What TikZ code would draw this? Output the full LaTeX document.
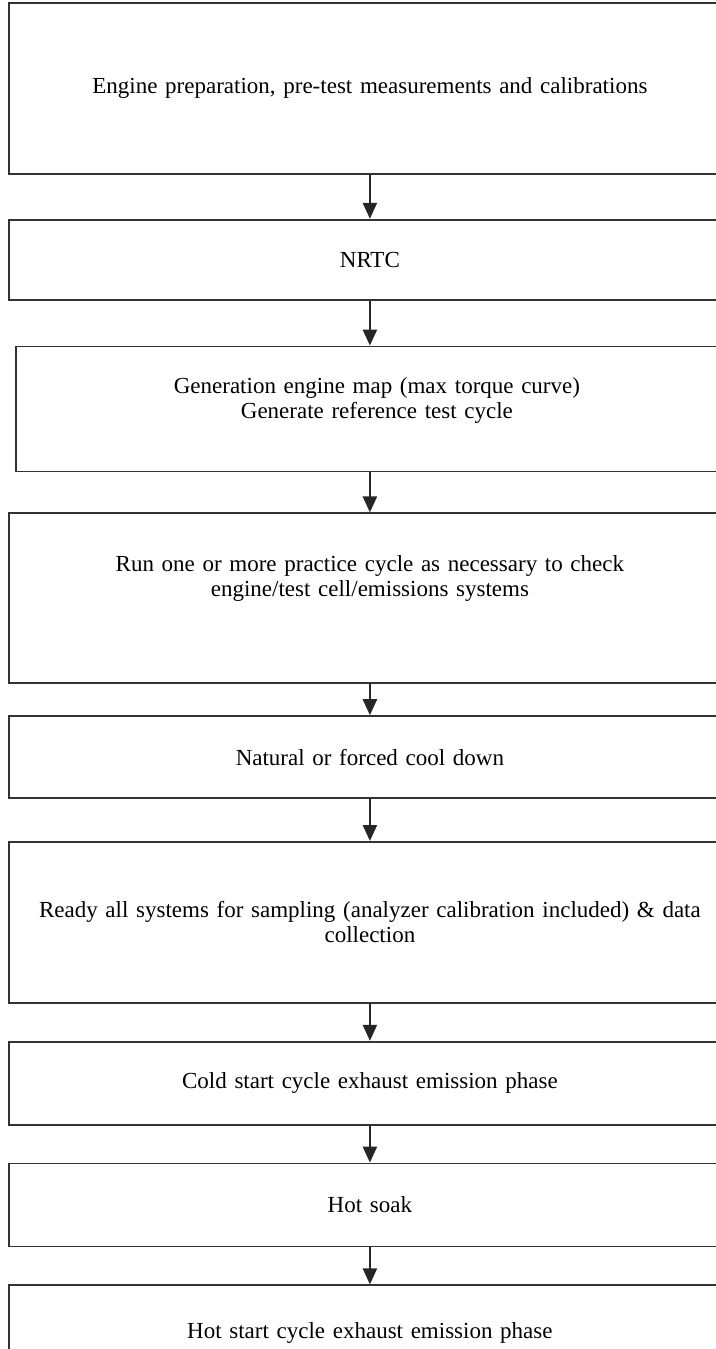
\documentclass[tikz,border=0pt]{standalone}
\usepackage{fontspec}
\setmainfont{Liberation Serif}
\usetikzlibrary{positioning,arrows.meta}

\begin{document}
\begin{tikzpicture}[x=0.5pt, y=-0.5pt,
    stepbox/.style={rectangle, draw=black!80, line width=0.9pt, minimum width=361pt, text width=352pt, align=center, font=\fontsize{11.5}{12.5}\selectfont, inner sep=0pt},
    flow/.style={draw=black!85, line width=1.2pt, -{Triangle[length=8pt, width=7pt]}}]

    % Page
    \useasboundingbox (0,0) rectangle (716,1349);

    % Nodes
    \node [stepbox, minimum height=85.5pt, anchor=north west] (prep) at (8,2) {Engine preparation, pre-test measurements and calibrations};
    \node [stepbox, minimum height=40pt, below=22pt of prep] (nrtc) {NRTC};
    \node [stepbox, minimum height=62.5pt, text depth=23pt, below=22.5pt of nrtc, xshift=3.5pt] (map) {Generation engine map (max torque curve)\\Generate reference test cycle};
    \node [stepbox, minimum height=85pt, text depth=35pt, below=20pt of map, xshift=-3.5pt] (practice) {Run one or more practice cycle as necessary to check\\engine/test cell/emissions systems};
    \node [stepbox, minimum height=41pt, below=15.5pt of practice] (cool) {Natural or forced cool down};
    \node [stepbox, minimum height=80.5pt, below=21pt of cool] (ready) {Ready all systems for sampling (analyzer calibration included) \& data\\collection};
    \node [stepbox, minimum height=41.5pt, below=18.5pt of ready] (cold) {Cold start cycle exhaust emission phase};
    \node [stepbox, minimum height=41.5pt, below=18.5pt of cold] (soak) {Hot soak};
    \node [stepbox, minimum height=48pt, below=18.5pt of soak] (hot) {Hot start cycle exhaust emission phase};

    % Edges
    \path [flow] (prep) -- (nrtc);
    \path [flow] (nrtc.south) -- (nrtc.south |- map.north);
    \path [flow] (map.south -| practice.north) -- (practice.north);
    \path [flow] (practice) -- (cool);
    \path [flow] (cool) -- (ready);
    \path [flow] (ready) -- (cold);
    \path [flow] (cold) -- (soak);
    \path [flow] (soak) -- (hot);
\end{tikzpicture}
\end{document}
